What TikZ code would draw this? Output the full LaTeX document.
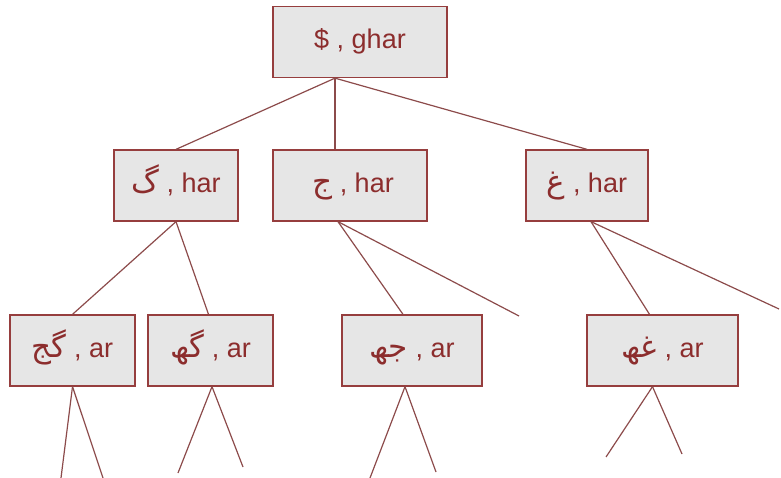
\documentclass[tikz,border=0pt]{standalone}
\usepackage{fontspec}
\setmainfont{Liberation Sans}
\newfontfamily\arabicfont[Script=Arabic,Scale=1.15]{DejaVu Sans}
\TeXXeTstate=1
\definecolor{boxfill}{RGB}{230,230,230}
\definecolor{boxline}{RGB}{150,62,62}
\definecolor{txtcol}{RGB}{140,45,45}
\definecolor{linkcol}{RGB}{140,75,75}
\newcommand{\ar}[1]{{\arabicfont\beginR #1\endR}}
\tikzset{
  treebox/.style={draw=boxline, fill=boxfill, line width=1.3pt, minimum height=71pt,
    inner sep=0pt, text height=20pt, text depth=6pt, text=txtcol,
    font=\fontsize{27}{32}\selectfont},
  link/.style={draw=linkcol, line width=1.2pt}
}
\begin{document}
\begin{tikzpicture}[x=1pt,y=-1pt]
\useasboundingbox (0,0) rectangle (781,478);
% level 1
\node[treebox, minimum width=174pt] (top) at (360,42) {\$ , ghar};
% level 2
\node[treebox, minimum width=124pt] (ga) at (176,185.5) {\ar{گ} , har};
\node[treebox, minimum width=154pt] (ja) at (350,185.5) {\hspace*{6pt}\ar{ج} , har};
\node[treebox, minimum width=122pt] (gha) at (587,185.5) {\ar{غ} , har};
% level 3
\node[treebox, minimum width=125pt] (gj) at (72.5,350.5) {\ar{گج} , ar};
\node[treebox, minimum width=125pt] (gh) at (210.5,350.5) {\ar{گھ} , ar};
\node[treebox, minimum width=140pt] (jh) at (412,350.5) {\ar{جھ} , ar};
\node[treebox, minimum width=151pt] (ghh) at (662.5,350.5) {\ar{غھ} , ar};
% connection points
\coordinate (topb) at ([xshift=-25pt]top.south);
\coordinate (jat) at ([xshift=-15pt]ja.north);
\coordinate (jab) at ([xshift=-12pt]ja.south);
\coordinate (ghat) at (gha.north);
\coordinate (ghab) at ([xshift=4pt]gha.south);
\coordinate (ght) at ([xshift=-2pt]gh.north);
\coordinate (ghb) at ([xshift=1.5pt]gh.south);
\coordinate (jht) at ([xshift=-9pt]jh.north);
\coordinate (jhb) at ([xshift=-7pt]jh.south);
\coordinate (ghht) at ([xshift=-13pt]ghh.north);
\coordinate (ghhb) at ([xshift=-10pt]ghh.south);
% free ends
\coordinate (f1) at (519,316);
\coordinate (f2) at (779,309);
\coordinate (e1) at (61,478);
\coordinate (e2) at (103,478);
\coordinate (e3) at (178,473);
\coordinate (e4) at (243,467);
\coordinate (e5) at (370,478);
\coordinate (e6) at (436,472);
\coordinate (e7) at (606,457);
\coordinate (e8) at (682,454);
% connectors
\draw[link] (topb) -- (ga.north);
\draw[link] (topb) -- (jat);
\draw[link] (topb) -- (ghat);
\draw[link] (ga.south) -- (gj.north);
\draw[link] (ga.south) -- (ght);
\draw[link] (jab) -- (jht);
\draw[link] (jab) -- (f1);
\draw[link] (ghab) -- (ghht);
\draw[link] (ghab) -- (f2);
\draw[link] (gj.south) -- (e1);
\draw[link] (gj.south) -- (e2);
\draw[link] (ghb) -- (e3);
\draw[link] (ghb) -- (e4);
\draw[link] (jhb) -- (e5);
\draw[link] (jhb) -- (e6);
\draw[link] (ghhb) -- (e7);
\draw[link] (ghhb) -- (e8);
\end{tikzpicture}
\end{document}
